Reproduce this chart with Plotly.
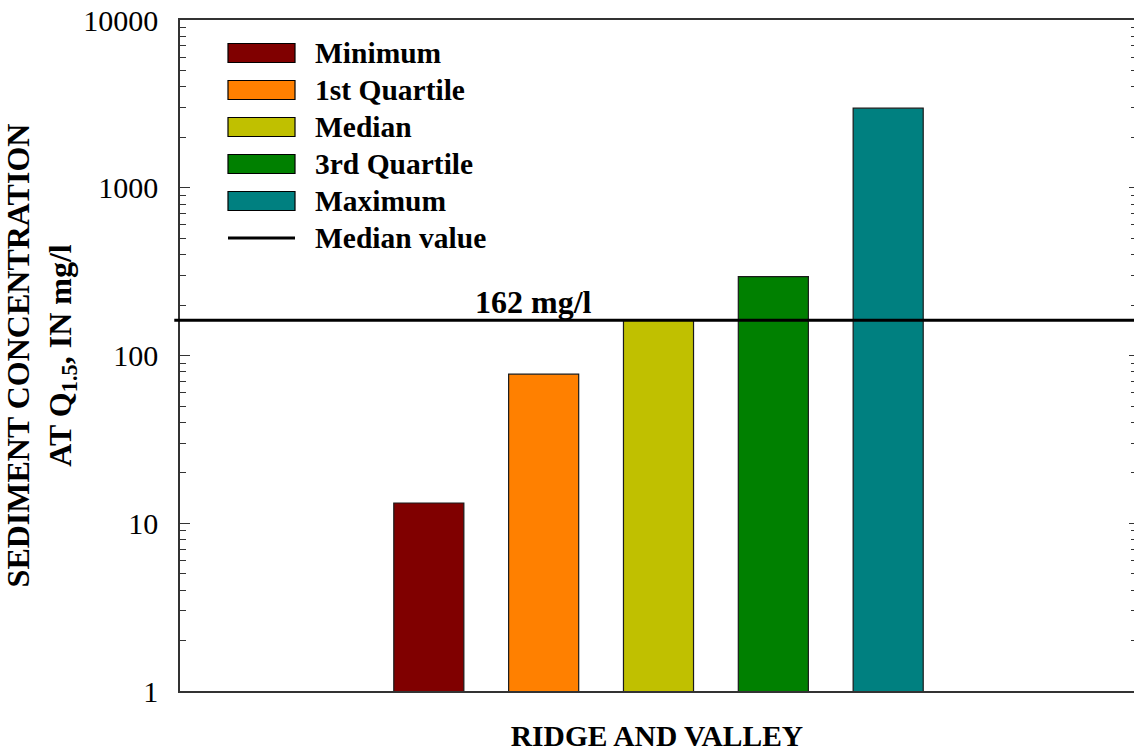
import math
import plotly.graph_objects as go

# ---- data ----
region = "RIDGE AND VALLEY"
stat_names = ["Minimum", "1st Quartile", "Median", "3rd Quartile", "Maximum"]
stat_values = [13.2, 77.4, 162, 295, 2980]
stat_colors = ["#800000", "#FF8000", "#C0C000", "#008000", "#008080"]
median_value = 162
median_label = "162 mg/l"
median_legend = "Median value"
y_tickvals = [1, 10, 100, 1000, 10000]
y_ticktext = ["1", "10", "100", "1000", "10000"]

# ---- layout geometry (pixels) ----
W, H = 1134, 752
L, R, T, B = 180, 0, 20, 61
pw, ph = W - L - R, H - T - B

def px_x(x):
    return (x - L) / pw

def px_y(y):
    return (H - B - y) / ph

FONT = "Liberation Serif, Times New Roman, serif"
AXC = "#333333"

fig = go.Figure()
for name, val, col in zip(stat_names, stat_values, stat_colors):
    fig.add_trace(go.Bar(
        x=[region], y=[val], name=name,
        marker=dict(color=col, line=dict(color="#1a1a1a", width=1.2)),
        showlegend=False, hoverinfo="name+y",
    ))

# carrier trace so the right-hand tick axis is drawn
fig.add_trace(go.Scatter(
    x=[region], y=[median_value], yaxis="y2", mode="markers",
    marker=dict(opacity=0), showlegend=False, hoverinfo="skip",
))

shapes = [
    dict(type="line", xref="paper", yref="y", x0=-0.006, x1=1,
         y0=median_value, y1=median_value,
         line=dict(color="black", width=3)),
]
annotations = [
    dict(text="<b>" + median_label + "</b>", xref="paper", yref="y",
         x=px_x(533), y=math.log10(median_value), yanchor="bottom",
         xanchor="center", showarrow=False, yshift=-2,
         font=dict(family=FONT, size=32, color="black")),
]

# legend block in the upper-left of the plot
row_y = [53, 90, 127, 164, 201, 238]
sx0, sx1, tx = 228, 295, 313
for i, (name, col) in enumerate(zip(stat_names, stat_colors)):
    cy = row_y[i]
    shapes.append(dict(type="rect", xref="paper", yref="paper",
                       x0=px_x(sx0), x1=px_x(sx1),
                       y0=px_y(cy + 9.5), y1=px_y(cy - 9.5),
                       fillcolor=col, line=dict(color="black", width=1.2)))
    annotations.append(dict(text="<b>" + name + "</b>", xref="paper", yref="paper",
                            x=px_x(tx), y=px_y(cy), xanchor="left", yanchor="middle",
                            showarrow=False,
                            font=dict(family=FONT, size=29.5, color="black")))
cy = row_y[5]
shapes.append(dict(type="line", xref="paper", yref="paper",
                   x0=px_x(sx0), x1=px_x(sx1), y0=px_y(cy), y1=px_y(cy),
                   line=dict(color="black", width=3)))
annotations.append(dict(text="<b>" + median_legend + "</b>", xref="paper", yref="paper",
                        x=px_x(tx), y=px_y(cy), xanchor="left", yanchor="middle",
                        showarrow=False,
                        font=dict(family=FONT, size=29.5, color="black")))

fig.update_layout(
    width=W, height=H,
    margin=dict(l=L, r=R, t=T, b=B, pad=0),
    paper_bgcolor="white", plot_bgcolor="white",
    barmode="group", bargap=0.4, bargroupgap=0.39,
    showlegend=False,
    font=dict(family=FONT, color="black"),
    xaxis=dict(
        type="category", range=[-0.5, -0.5 + pw / 957],
        showline=True, linecolor=AXC, linewidth=1.5, mirror=True,
        showticklabels=False, ticks="", showgrid=False, zeroline=False,
        title=dict(text=region, standoff=36,
                   font=dict(family=FONT, size=29.5, color="black", weight="bold")),
    ),
    yaxis=dict(
        type="log", range=[0, 4],
        tickmode="array", tickvals=y_tickvals, ticktext=y_ticktext,
        ticks="inside", ticklen=10, tickwidth=1.2, tickcolor=AXC,
        minor=dict(ticks="inside", ticklen=6, tickwidth=1.2, tickcolor=AXC,
                   dtick="D1", showgrid=False),
        showline=True, linecolor=AXC, linewidth=1.5,
        showgrid=False, zeroline=False,
        tickfont=dict(family=FONT, size=30, color="black"),
        ticklabelstandoff=14,
        title=dict(text="SEDIMENT CONCENTRATION<br>AT Q<sub>1.5</sub>, IN mg/l",
                   standoff=10,
                   font=dict(family=FONT, size=32, color="black", weight="bold")),
    ),
    yaxis2=dict(
        type="log", range=[0, 4], overlaying="y", side="right", anchor="x",
        tickmode="array", tickvals=y_tickvals,
        ticks="inside", ticklen=5, tickwidth=1.2, tickcolor=AXC,
        minor=dict(ticks="inside", ticklen=3, tickwidth=1.2, tickcolor=AXC,
                   dtick="D1", showgrid=False),
        showline=False, showticklabels=False, showgrid=False, zeroline=False,
    ),
    shapes=shapes,
    annotations=annotations,
)

fig.write_html("out.html")
